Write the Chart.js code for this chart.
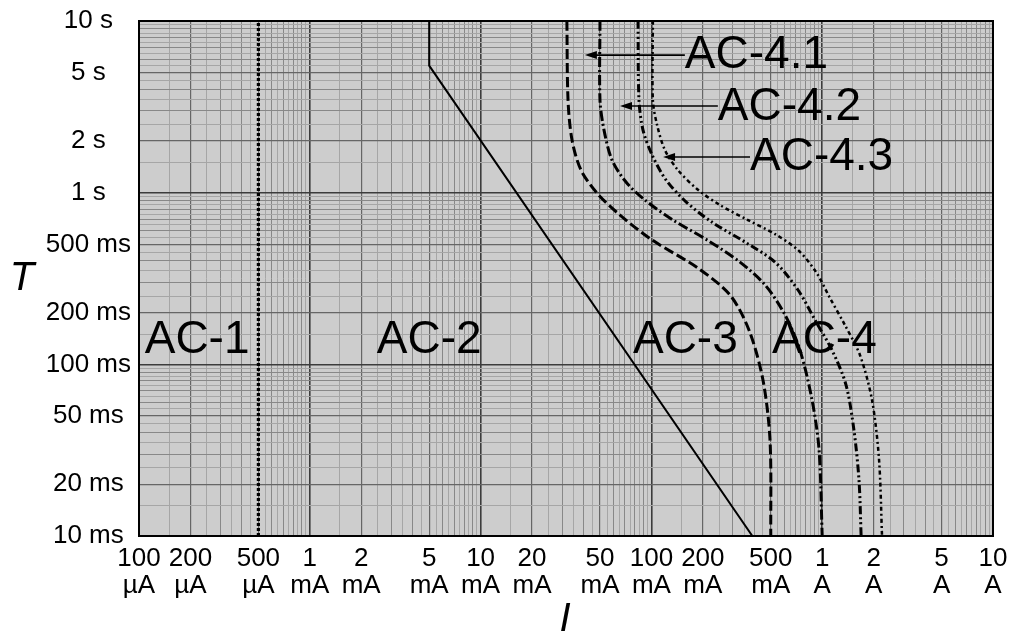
<!DOCTYPE html>
<html>
<head>
<meta charset="utf-8">
<script src="https://cdn.jsdelivr.net/npm/chart.js@4.4.1/dist/chart.umd.min.js"></script>
<style>
  html, body { margin: 0; padding: 0; background: #fff; }
  canvas { display: block; }
</style>
</head>
<body>
<canvas id="chart" width="1011" height="633"></canvas>
<script>
// current in mA, time in ms
const xTickValues = [0.1, 0.2, 0.5, 1, 2, 5, 10, 20, 50, 100, 200, 500, 1000, 2000, 5000, 10000];
const xTickLabels = [['100', 'µA'], ['200', 'µA'], ['500', 'µA'], ['1', 'mA'], ['2', 'mA'], ['5', 'mA'],
    ['10', 'mA'], ['20', 'mA'], ['50', 'mA'], ['100', 'mA'], ['200', 'mA'], ['500', 'mA'],
    ['1', 'A'], ['2', 'A'], ['5', 'A'], ['10', 'A']];
const yTickValues = [10, 20, 50, 100, 200, 500, 1000, 2000, 5000, 10000];
const yTickLabels = ['10 ms', '20 ms', '50 ms', '100 ms', '200 ms', '500 ms', '1 s', '2 s', '5 s', '10 s'];

// boundary lines
const ac1Current = [0.5, 0.5];
const ac1Time = [10, 10000];
const ac2Current = [5, 5, 390];
const ac2Time = [10000, 5500, 10];
const c1Current = [32, 32.5, 34.3, 38.7, 48, 65.5, 101, 187, 289, 373, 450, 495, 500];
const c1Time = [10000, 3460, 2025, 1354, 995, 740, 530, 364, 253, 158, 81, 36, 10];
const c2Current = [50, 50, 52.8, 58.8, 71, 91.7, 134, 212, 330, 463, 606, 741, 872, 958, 1000];
const c2Time = [10000, 3460, 2315, 1548, 1153, 905, 692, 530, 394, 290, 194, 121, 62, 32, 10];
const c3Current = [83.5, 84.6, 89.3, 101, 122, 160, 226, 353, 529, 722, 908, 1141, 1378, 1536, 1643, 1690];
const c3Time = [10000, 3460, 2315, 1656, 1184, 882, 674, 516, 394, 271, 181, 121, 76, 41, 21, 10];
const c4Current = [102, 102, 108, 120, 143, 185, 252, 368, 529, 722, 920, 1111, 1360, 1665, 1957, 2151, 2240];
const c4Time = [10000, 3460, 2475, 1771, 1354, 1050, 847, 692, 574, 463, 345, 243, 169, 113, 62, 28, 10];

// zone labels (left edge, baseline)
const regionNames = ['AC-1', 'AC-2', 'AC-3', 'AC-4'];
const regionCurrent = [0.108, 2.47, 78, 508];
const regionTime = [116, 116, 116, 116];
const zoneNames = ['AC-4.1', 'AC-4.2', 'AC-4.3'];
const zoneTextCurrent = [157, 245, 378];
const zoneTextTime = [5318, 2648, 1354];
const arrowTipCurrent = [40.8, 65.5, 117];
const arrowTime = [6330, 3195, 1612];

const FONT = '"Liberation Sans", Arial, sans-serif';

function series(current, time) {
    return current.map((c, i) => ({ x: c, y: time[i] }));
}

function gridValues(min, max) {
    const vals = [];
    for (let e = Math.round(Math.log10(min)); e < Math.round(Math.log10(max)); e++) {
        const base = Math.pow(10, e);
        for (let m = 1; m < 10; m += 0.5) vals.push(m * base);
    }
    vals.push(max);
    return vals;
}

function lineKind(v) {
    const e = Math.floor(Math.log10(v) + 1e-9);
    const m = Math.round(v / Math.pow(10, e) * 2) / 2;
    if (m === 1 || m === 10) return 0;
    if (m === 2 || m === 5) return 1;
    if (Number.isInteger(m)) return 2;
    return 3;
}
const gridColors = ['#3c3c3c', '#666', '#888', '#a6a6a6'];
const gridWidths = [1.6, 1.2, 1, 1];

function findLabel(v, values, labels) {
    const i = values.findIndex(t => Math.abs(v / t - 1) < 1e-6);
    return i < 0 ? '' : labels[i];
}

const overlay = {
    id: 'overlay',
    beforeDraw(chart) {
        const { ctx, chartArea: a } = chart;
        ctx.save();
        ctx.fillStyle = '#cdcdcd';
        ctx.fillRect(a.left, a.top, a.right - a.left, a.bottom - a.top);
        ctx.restore();
    },
    afterDatasetsDraw(chart) {
        const { ctx } = chart;
        const xs = chart.scales.x, ys = chart.scales.y;
        ctx.save();
        ctx.fillStyle = '#000';
        ctx.strokeStyle = '#000';
        ctx.font = '46px ' + FONT;
        ctx.textBaseline = 'alphabetic';
        ctx.textAlign = 'left';
        regionNames.forEach((n, i) => {
            ctx.fillText(n, xs.getPixelForValue(regionCurrent[i]), ys.getPixelForValue(regionTime[i]));
        });
        zoneNames.forEach((n, i) => {
            const x0 = xs.getPixelForValue(zoneTextCurrent[i]);
            const tip = xs.getPixelForValue(arrowTipCurrent[i]);
            const y = ys.getPixelForValue(arrowTime[i]);
            ctx.fillText(n, x0, ys.getPixelForValue(zoneTextTime[i]));
            ctx.lineWidth = 1.6;
            ctx.beginPath();
            ctx.moveTo(x0, y);
            ctx.lineTo(tip + 8, y);
            ctx.stroke();
            ctx.beginPath();
            ctx.moveTo(tip, y);
            ctx.lineTo(tip + 12, y - 4);
            ctx.lineTo(tip + 12, y + 4);
            ctx.closePath();
            ctx.fill();
        });
        ctx.restore();
    },
    afterDraw(chart) {
        const { ctx, chartArea: a } = chart;
        ctx.save();
        ctx.strokeStyle = '#000';
        ctx.lineWidth = 2;
        ctx.strokeRect(a.left, a.top, a.right - a.left, a.bottom - a.top);
        ctx.fillStyle = '#000';
        ctx.font = 'italic 40px ' + FONT;
        ctx.textAlign = 'center';
        ctx.textBaseline = 'alphabetic';
        ctx.fillText('T', a.left - 117, a.top + 269);
        ctx.fillText('I', (a.left + a.right) / 2 - 1, 631);
        ctx.restore();
    }
};

const curveStyle = { borderColor: '#000', pointRadius: 0, showLine: true, fill: false };

new Chart(document.getElementById('chart'), {
    type: 'scatter',
    data: {
        datasets: [
            { ...curveStyle, data: series(ac1Current, ac1Time), borderWidth: 3.2, borderDash: [3, 2] },
            { ...curveStyle, data: series(ac2Current, ac2Time), borderWidth: 2 },
            { ...curveStyle, data: series(c1Current, c1Time), borderWidth: 3, borderDash: [10, 4], tension: 0.3 },
            { ...curveStyle, data: series(c2Current, c2Time), borderWidth: 3, borderDash: [10, 3, 2, 3], tension: 0.3 },
            { ...curveStyle, data: series(c3Current, c3Time), borderWidth: 3, borderDash: [8, 3, 2, 3, 2, 3], tension: 0.3 },
            { ...curveStyle, data: series(c4Current, c4Time), borderWidth: 2.5, borderDash: [4, 3, 2, 3], tension: 0.3 }
        ]
    },
    options: {
        responsive: false,
        animation: false,
        events: [],
        layout: { padding: { top: 21, right: 18, left: 0, bottom: 0 } },
        plugins: { legend: { display: false }, tooltip: { enabled: false } },
        scales: {
            x: {
                type: 'logarithmic',
                min: 0.1,
                max: 10000,
                afterFit: s => { s.height = 97; s.paddingLeft = 0; s.paddingRight = 0; },
                afterBuildTicks: s => { s.ticks = gridValues(0.1, 10000).map(v => ({ value: v })); },
                border: { display: false },
                grid: {
                    drawTicks: false,
                    color: c => gridColors[lineKind(c.tick.value)],
                    lineWidth: c => gridWidths[lineKind(c.tick.value)]
                },
                ticks: {
                    autoSkip: false,
                    maxRotation: 0,
                    minRotation: 0,
                    padding: 9,
                    color: '#000',
                    font: { family: FONT, size: 26, lineHeight: 1.05 },
                    callback: v => findLabel(v, xTickValues, xTickLabels)
                }
            },
            y: {
                type: 'logarithmic',
                min: 10,
                max: 10000,
                afterFit: s => { s.width = 139; s.paddingTop = 0; s.paddingBottom = 0; },
                afterBuildTicks: s => { s.ticks = gridValues(10, 10000).map(v => ({ value: v })); },
                border: { display: false },
                grid: {
                    drawTicks: false,
                    color: c => gridColors[lineKind(c.tick.value)],
                    lineWidth: c => gridWidths[lineKind(c.tick.value)]
                },
                ticks: {
                    autoSkip: false,
                    crossAlign: 'center',
                    padding: 8,
                    color: '#000',
                    font: { family: FONT, size: 26 },
                    callback: v => findLabel(v, yTickValues, yTickLabels)
                }
            }
        }
    },
    plugins: [overlay]
});
</script>
</body>
</html>
